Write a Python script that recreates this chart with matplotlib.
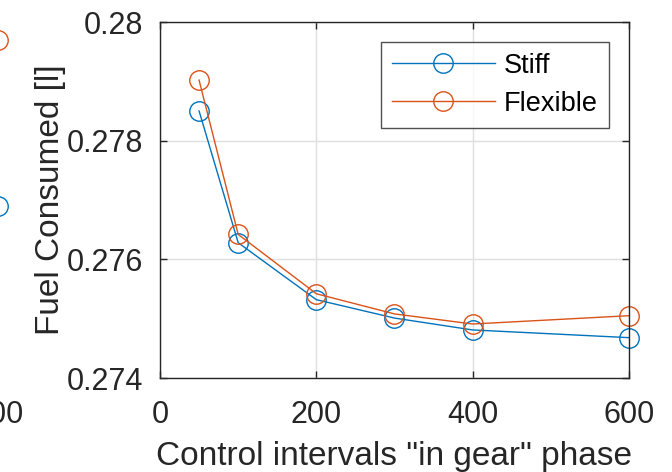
import matplotlib.pyplot as plt

# Data
intervals = [50, 100, 200, 300, 400, 600]
stiff = [0.27850, 0.27628, 0.27532, 0.27501, 0.27481, 0.27468]
flexible = [0.27902, 0.27642, 0.27542, 0.27508, 0.27491, 0.27505]

# neighbouring subplot, only its last points are visible at the left edge
left_x = [600]
left_stiff = [0.2769]
left_flex = [0.2797]

blue = '#0072BD'
orange = '#D95319'
axcol = '#262626'

plt.rcParams['font.family'] = ['Liberation Sans', 'DejaVu Sans']

fig = plt.figure(figsize=(6.72, 4.72), dpi=100)
W, H = 672, 472

# partial neighbour axes (mostly outside the figure)
axl = fig.add_axes([-470 / W, (H - 378) / H, 468 / W, 356 / H])
axl.plot(left_x, left_stiff, '-o', color=blue, ms=14, mfc='none', lw=1, clip_on=False)
axl.plot(left_x, left_flex, '-o', color=orange, ms=14, mfc='none', lw=1, clip_on=False)
axl.set_xlim(0, 600)
axl.set_ylim(0.274, 0.280)
axl.set_xticks([600])
axl.set_xticklabels(['600'])
axl.set_yticks([])
for s in axl.spines.values():
    s.set_visible(False)
axl.tick_params(axis='x', length=0, labelsize=22, colors=axcol, pad=16)

ax = fig.add_axes([160 / W, (H - 378) / H, 469 / W, 356 / H])
ax.plot(intervals, stiff, '-o', color=blue, ms=14, mfc='none', lw=1,
        label='Stiff', clip_on=False)
ax.plot(intervals, flexible, '-o', color=orange, ms=14, mfc='none', lw=1,
        label='Flexible', clip_on=False)

ax.set_xlim(0, 600)
ax.set_ylim(0.274, 0.280)
ax.set_xticks([0, 200, 400, 600])
ax.set_yticks([0.274, 0.276, 0.278, 0.280])
ax.set_yticklabels(['0.274', '0.276', '0.278', '0.28'])
ax.grid(True, color='#DFDFDF', lw=1)
ax.set_axisbelow(True)
ax.tick_params(direction='in', top=True, right=True, length=5, width=1,
               labelsize=22, colors=axcol)
ax.tick_params(axis='y', pad=12)
ax.tick_params(axis='x', pad=16)
for s in ax.spines.values():
    s.set_color(axcol)
    s.set_linewidth(1)

ax.set_xlabel('Control intervals "in gear" phase', fontsize=24, color=axcol, labelpad=8)
ax.set_ylabel('Fuel Consumed [l]', fontsize=24, color=axcol, labelpad=1)

leg = ax.legend(loc='upper right', fontsize=19.5, handlelength=3.8, frameon=True,
                fancybox=False, edgecolor=axcol, bbox_to_anchor=(0.957, 0.944),
                borderaxespad=0, handletextpad=0.34, borderpad=0.4, labelspacing=0.45)
leg.get_frame().set_linewidth(1)

fig.savefig('out.png', dpi=100)
